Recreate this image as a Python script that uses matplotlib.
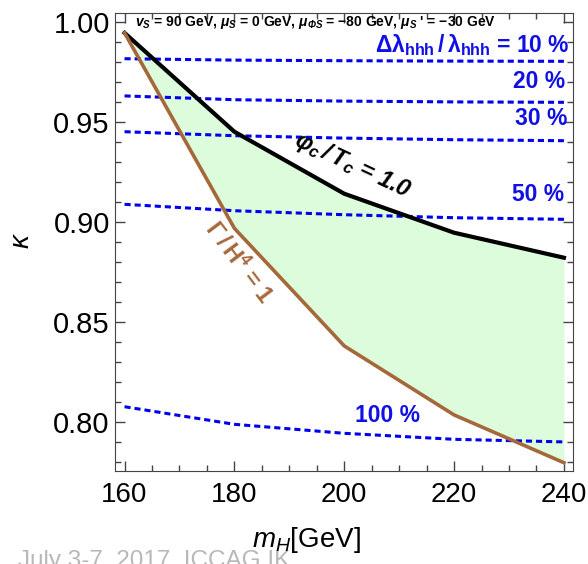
import numpy as np
import matplotlib
matplotlib.use("Agg")
import matplotlib.pyplot as plt

plt.rcParams['font.family'] = ['Liberation Sans', 'DejaVu Sans']
plt.rcParams['mathtext.fontset'] = 'custom'
plt.rcParams['mathtext.rm'] = 'Liberation Sans'
plt.rcParams['mathtext.it'] = 'Liberation Sans:italic'
plt.rcParams['mathtext.bf'] = 'Liberation Sans:bold'
plt.rcParams['mathtext.bfit'] = 'Liberation Sans:bold:italic'

# masses where the curves were computed
m_H = [160, 180, 200, 220, 240]

# phi_c / T_c = 1.0 boundary
kappa_ewpt = [0.9944, 0.945, 0.914, 0.8945, 0.882]
# Gamma / H^4 = 1 boundary
kappa_nucl = [0.9944, 0.8967, 0.8379, 0.8034, 0.7795]

# Delta lambda_hhh / lambda_hhh contours
dl_levels = ["10 %", "20 %", "30 %", "50 %", "100 %"]
dl_curves = [
    [0.9815, 0.9808, 0.9805, 0.9803, 0.9802],
    [0.9629, 0.9610, 0.9603, 0.9599, 0.9597],
    [0.9450, 0.9430, 0.9418, 0.9410, 0.9405],
    [0.9087, 0.9055, 0.9035, 0.9020, 0.9012],
    [0.8075, 0.7987, 0.7942, 0.7912, 0.7899],
]

fig = plt.figure(figsize=(5.88, 5.64), dpi=100)
ax = fig.add_axes([0.195, 0.1654, 0.779, 0.811])

ax.fill_between(m_H, kappa_nucl, kappa_ewpt, color="#dcfcdc", lw=0)
for c in dl_curves:
    ax.plot(m_H, c, color="#0000ee", lw=2.2, dashes=(2.0, 1.3))
ax.plot(m_H, kappa_ewpt, color="black", lw=3.0, solid_joinstyle="round")
ax.plot(m_H, kappa_nucl, color="#a5683a", lw=2.6, solid_joinstyle="round")

ax.set_xlim(158.2, 241.6)
ax.set_ylim(0.7755, 1.0042)
ax.set_xticks([160, 180, 200, 220, 240])
ax.set_xticks(np.arange(160, 241, 5), minor=True)
ax.set_yticks([0.80, 0.85, 0.90, 0.95, 1.00])
ax.set_yticks(np.arange(0.78, 1.001, 0.01), minor=True)
ax.yaxis.set_major_formatter(matplotlib.ticker.FormatStrFormatter("%.2f"))
ax.tick_params(which="both", direction="in", top=True, right=True,
               color="#444444", labelsize=20, width=1)
ax.tick_params(axis="y", labelsize=21)
ax.tick_params(which="major", length=7)
ax.tick_params(which="minor", length=4)
ax.tick_params(axis="x", pad=8)
for s in ax.spines.values():
    s.set_color("#444444")

ax.text(0.044, 0.981,
        r"$\mathbfit{v_S}$ = 90 GeV, $\mathbfit{\mu_S}$ = 0 GeV, "
        r"$\mathbfit{\mu_{\Phi S}}$ = $\mathbf{-}$80 GeV, $\mathbfit{\mu_S}$ ' = $\mathbf{-}$30 GeV",
        transform=ax.transAxes, fontsize=10, fontweight="bold", va="center", ha="left")

blue = "#1010e6"
ax.text(0.994, 0.931, r"$\mathbf{\Delta\lambda_{hhh}\,/\,\lambda_{hhh}}$ = 10 %",
        transform=ax.transAxes, fontsize=16.5, fontweight="bold", color=blue,
        ha="right", va="center")
for lab, xx, yy in [("20 %", 0.983, 0.852), ("30 %", 0.988, 0.769),
                    ("50 %", 0.981, 0.603)]:
    ax.text(xx, yy, lab, transform=ax.transAxes, fontsize=16.5, fontweight="bold",
            color=blue, ha="right", va="center")
ax.text(0.596, 0.120, "100 %", transform=ax.transAxes, fontsize=16.5,
        fontweight="bold", color=blue, ha="center", va="center")

ax.text(0.52, 0.668, r"$\mathbfit{\varphi_c\,/\,T_c}$ = 1.0", transform=ax.transAxes,
        fontsize=17, fontweight="bold", fontstyle="italic", rotation=-25,
        rotation_mode="anchor", ha="center", va="center")
ax.text(0.27, 0.456, r"$\mathbf{\Gamma\,/\,H^4}$ = 1", transform=ax.transAxes,
        fontsize=17, color="#a5683a", fontweight="bold", rotation=-53,
        rotation_mode="anchor", ha="center", va="center")

fig.text(22 / 588, 1 - 240 / 564, r"$\kappa$", fontsize=20, rotation=90,
         ha="center", va="center")
fig.text(306 / 588, 1 - 540 / 564, r"$m_H$[GeV]", fontsize=20,
         ha="center", va="center")
fig.text(0.03, 0.024, "July 3-7, 2017, ICCAG IK", fontsize=17.5, color="#b8b8b8",
         ha="left", va="top", zorder=0)

fig.savefig("out.png", dpi=100)
